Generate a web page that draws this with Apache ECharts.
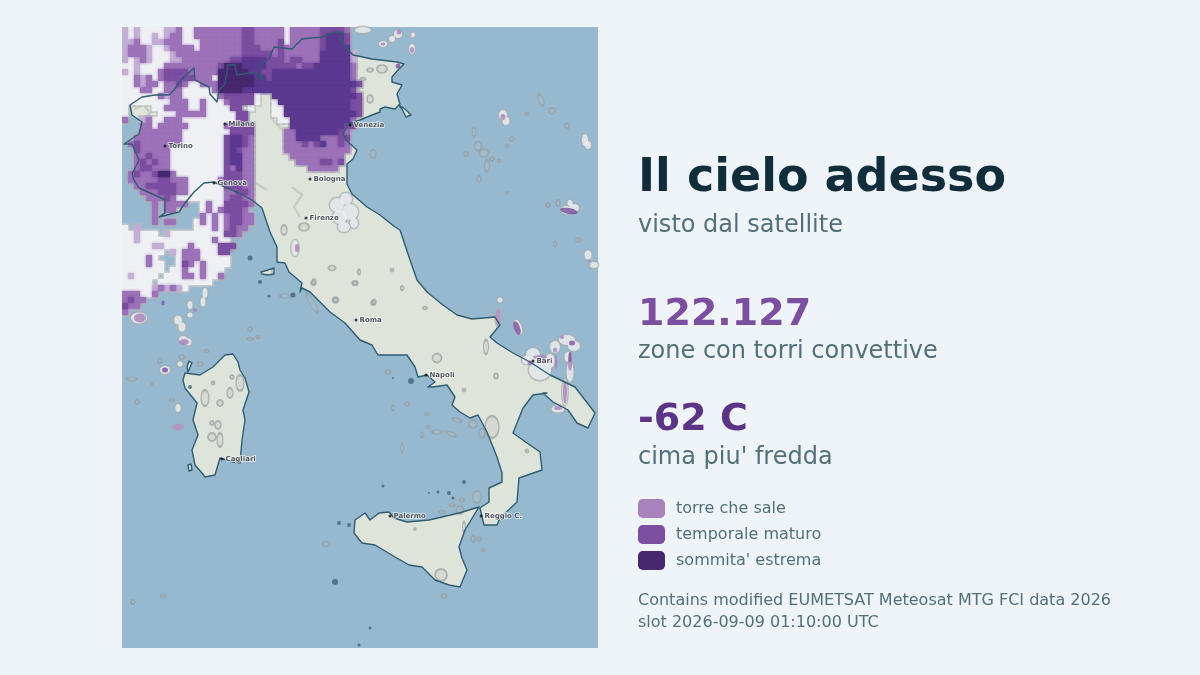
<!DOCTYPE html>
<html lang="it">
<head>
<meta charset="UTF-8">
<title>Il cielo adesso</title>
<script src="https://cdn.jsdelivr.net/npm/echarts@6/dist/echarts.min.js"></script>
<style>
html, body { margin: 0; padding: 0; background: #eff4f8; }
#chart { width: 1200px; height: 675px; }
</style>
</head>
<body>
<div id="chart"></div>
<script>
// mappa: unita' del riquadro, x 0-476, y 0-621 dall'alto
const mapWidth = 476
const mapHeight = 621
const cellSize = 6

const mainland = [
	[8,78],[20,70],[33,68],[47,68],[52,63],[60,52],[72,41],[73,53],[87,60],[88,67],[95,75],[97,63],[103,57],[106,38],[113,38],[115,48],
	[133,45],[140,53],[138,37],[147,32],[152,20],[170,22],[180,12],[200,10],[213,5],[220,5],[218,12],[225,22],[231,28],[250,32],[275,35],
	[282,37],[276,43],[270,50],[270,55],[280,58],[275,67],[278,77],[273,82],[263,80],[258,82],[258,85],[250,88],[238,93],[226,97],[221,107],
	[226,115],[235,123],[231,132],[225,137],[225,157],[230,167],[245,180],[258,188],[273,200],[278,203],[286,227],[295,253],[305,265],[321,278],
	[335,288],[350,292],[373,290],[378,298],[368,310],[375,316],[391,326],[408,335],[428,348],[453,360],[473,386],[466,401],[455,396],[446,383],
	[431,375],[421,366],[425,366],[411,368],[401,381],[395,396],[391,406],[405,416],[418,425],[420,443],[397,451],[395,475],[378,491],[375,498],
	[362,498],[358,481],[367,475],[367,461],[380,455],[380,446],[375,430],[365,405],[356,388],[348,391],[338,385],[330,378],[333,370],[325,358],
	[311,360],[306,360],[313,355],[305,348],[296,350],[293,340],[285,328],[275,328],[256,328],[250,318],[238,313],[223,296],[208,285],[188,265],
	[180,261],[178,265],[180,256],[167,245],[163,236],[155,235],[155,220],[148,205],[140,181],[130,173],[117,166],[103,160],[92,155],[82,156],
	[72,165],[63,176],[57,185],[37,190],[43,186],[43,173],[37,170],[17,161],[12,153],[10,147],[17,133],[10,117],[2,117],[17,107],[20,95],[10,88]
]
const sardinia = [
	[103,328],[111,327],[116,335],[118,343],[123,351],[127,365],[121,383],[123,393],[120,413],[118,436],[111,435],[98,431],[93,448],[83,450],
	[80,446],[73,438],[70,423],[76,408],[71,393],[75,376],[63,361],[61,353],[63,346],[78,348],[91,340]
]
const sicily = [
	[233,493],[243,486],[248,493],[257,486],[267,485],[272,491],[285,495],[307,493],[320,490],[337,486],[357,480],[352,488],[343,503],[337,520],
	[340,531],[345,543],[338,560],[327,558],[313,553],[300,540],[287,538],[273,530],[253,518],[240,516],[232,506]
]
const elba = [[139,245],[146,243],[152,241],[152,247],[146,248],[140,247]]
const grado = [[277,78],[283,82],[289,88],[284,90],[280,82]]
const asinara = [[67,334],[70,336],[66,345],[65,340]]
const sanPietro = [[66,438],[69,437],[70,443],[67,444]]
const landShapes = [mainland, sardinia, sicily, elba, grado, asinara, sanPietro]

// isolette scure [x, y, diametro]
const tinyIslands = [
	[128,231,5],[138,255,4],[147,269,3],[171,268,5],[289,354,6],[271,351,2],[213,555,6],[261,459,3],[342,455,4],[307,466,2],[316,465,3],
	[327,466,4],[331,471,3],[217,496,4],[227,498,4],[248,601,3],[237,618,3],[68,360,4]
]

// nubi a celle da 6 unita': w bianco, a lavanda, l chiaro, m medio, d scuro, x estremo
const cloudRows = [
	"awawwwwaalwwllllllllmmlllllwlllllmmmml",
	"awawwawallwwllllllllmmlllllwlllllmdddm",
	"aalwwaalllwwwlllllllmmllllmwlllllmdddm",
	"alllawwallllwlllllllmmmlllmllllllmdddd",
	"alllawwwalllllllllllmmmmmlmllllllddddda",
	"awalawwwaallllllllmmddddmmmlmmlllddddda",
	"wwawwwwlllllllllmxxxddddmmmmmlmmddddddl",
	"awawwwlmmmmlllllxxxxxddmmdddddddddddddl",
	"wwlalwlmmmmmlllwxxxxxxddmdddddddddddddl",
	"wwlallwllmlwwlllxxxxxxdddddddddddddddddm",
	"wwwllwwlllwwwwwlxxxxddddddddddddddddddm",
	"wwwwwwlallwwwwwwlmmmmmw..ddddddddddddddm",
	"wwwwwwwwlllwwlwwwlmmmmw..wddddddddddddmm",
	"w....wwllllwwlwwwwmm.w...wwdddddddddddmm",
	"w.....wwwlllllwwwwwmm....wwddddddddddddm",
	"l..alwwlllwwwwwwwwwmm.....wwddddddddddl",
	"...llwlllllwwwwwwlmmmm......dddddddddmm",
	"...lllllllwwwwwwwwmmmm.....lldddddddml",
	"..llllllllwwwwwwwmddml.....llddddlllmm",
	".lmlllllllwwwwwwwmddml.....lllmlmdllml",
	"..mlllllwwwwwwwwwmdmll.....lllllllllll",
	"..llmlllwwwwwwwwwmddll......lllllllll",
	"..lmlmllwwwwwwwwwmddll.......llllmmlm",
	"..lmmlllwwwwwwwwwmldll.........lllll",
	".lmllmxxlwwwwwwwwmmmll",
	".lllllmmlllwwwwwlmmmll",
	"..llmmmmmllwwwwwwmmmll",
	"...lllmmmllwwwwwwllmml",
	"....lllmlwwwwwwwwlmmll",
	".....l.llll..wlwwmmmml",
	".....l.ll....wlwlmmml",
	".....l.......lwlwlmmll",
	".....l.ll...wlwlwlmmll",
	"w.a.........wwwlwlmll",
	"wwawww.awwwwwwwwwmml",
	"wwawwwwwwwwwwwwlww",
	"wwwwwaawwwwlwwwwmmm",
	"wwwwwww.awlllwwwmm",
	"wwwwlw...wlllwwwww",
	"wwwwlww..wmlwlwwww",
	"wwwwwww.wwlwwlwww",
	"wawwww.wwwllwlwwl",
	"wwwww.wwwwwwwww",
	"wwwwwalalaw",
	"lllwwl",
	"lmll",
	"mll",
	"l"
]
const cloudClasses = ['w', 'a', 'l', 'm', 'd', 'x']

// nubi piccole e cuciture grigie [x, y, larghezza, altezza, rotazione]
const lowCloudBlobs = [
	[419,73,5,12,20],[430,84,6,6],[445,99,4,5],[356,119,7,9],[362,126,9,8],[352,105,4,9],[365,139,5,12],[357,152,4,6],[344,127,4,4],[390,112,4,4],
	[385,119,3,3],[377,134,3,3],[370,132,4,4],[385,166,2,2],[251,127,6,8],[426,178,4,4],[436,176,4,6],[456,213,4,4],[433,217,3,5],[405,87,3,3],
	[128,302,4,4],[128,312,6,3],[136,310,3,3],[10,352,10,4],[38,334,4,5],[78,337,5,4],[85,324,4,3],[30,357,3,3],[15,375,4,4],[50,373,5,3],
	[190,276,5,22,30],[163,269,10,4],[204,517,7,5],[11,575,4,4],[41,569,5,3],[322,569,5,4],[351,512,4,6],[357,512,4,4],[361,523,3,3],[355,470,9,12],
	[338,483,7,8],[330,478,5,3],[320,485,6,3],[340,473,5,3],[266,345,5,4],[285,377,4,4],[271,381,3,5],[305,387,4,3],[335,393,9,4,-20],[351,397,8,8],
	[315,405,10,4],[329,407,10,4,-25],[300,408,3,5],[306,400,3,3],[280,421,3,9],
	[315,331,9,9],[364,320,5,14],[374,349,4,5],[342,363,3,3],[405,424,3,3],[214,273,5,5],[251,276,4,4],[303,281,4,3],[233,256,5,4],[191,256,4,4],
	[370,400,14,22],[360,406,6,9],[210,241,7,5],[192,255,4,6],[233,256,5,4],[213,273,5,5],[252,275,4,5],[280,261,3,4],[270,243,3,3],[237,245,3,5],
	[162,203,6,10],[182,200,10,8],[83,371,8,16],[108,366,6,10],[118,356,8,16],[98,376,6,6],[90,396,4,4],[96,398,6,8],[90,410,8,8],[98,413,6,14],
	[110,350,4,4],[91,356,3,3],[319,548,12,12],[342,500,3,10],[293,502,2,2],[233,40,5,6],[248,43,6,4],[260,42,10,8],[248,72,6,8],[236,68,5,12],
	[231,50,4,4],[241,52,5,3],[228,33,3,3],[5,262,4,5],[12,288,5,4],[60,330,5,4]
]
const whiteBlobs = [
	[381,88,8,10],[384,94,7,8],[463,113,6,12],[466,118,6,8],[444,183,10,8],[452,181,10,8],[448,176,5,6],[466,228,7,9],[472,238,8,6],[276,7,8,8],[270,12,6,6],
	[261,17,8,6],[290,22,6,10],[241,3,16,6],[291,8,4,5],[56,293,8,9],[60,300,7,9],[61,312,8,6],[66,315,7,7],[68,278,5,8],[83,266,5,10],[81,275,5,9],
	[68,288,5,5],[43,343,10,8],[58,337,5,5],[56,381,5,8],[17,291,16,11],[215,178,14,14],[224,172,12,12],[228,185,16,16],[218,190,14,14],[222,200,12,10],[232,196,8,10],
	[173,221,7,16],[418,343,22,20],[411,328,14,14],[404,333,8,8],[428,334,10,14],[433,320,10,12],[445,313,16,10],[452,319,12,10],[446,330,7,10],[448,345,7,20],
	[443,365,5,26],[436,382,13,7],[378,273,5,5],[396,300,7,15,20],[376,290,5,18],[56,400,10,5],[152,244,3,3]
]
const lightBlobs = [
	[18,291,12,9],[62,315,10,6],[73,283,4,4],[175,221,4,8],[56,400,11,6],[376,290,5,18],[433,323,4,5],[448,336,4,16],[443,365,4,24],[436,381,8,4],
	[418,330,14,4],[408,336,5,5],[434,335,3,14],[277,5,5,5],[261,17,5,3],[290,23,4,6],[381,90,5,6],[467,234,3,3],[440,310,4,4]
]
const midBlobs = [[43,343,6,5],[41,276,3,5],[395,301,6,14,20],[450,316,6,5],[276,39,5,5],[447,184,18,6,-10],[448,330,3,10]]

// contorni grigi sulla terra
const contours = [
	[[132,68],[128,85],[122,105],[128,118],[124,132],[133,140],[132,155],[145,163]],
	[[160,80],[150,92],[165,108],[172,128],[190,130]],
	[[80,125],[88,140],[100,150],[106,158]],
	[[12,82],[22,78],[28,86],[22,94]],
	[[36,165],[48,172],[60,168]],
	[[170,160],[180,168],[172,180],[178,190]],
	[[226,40],[232,62],[226,80],[232,95]]
]

const cities = [
	['Milano',103,97],['Torino',43,119],['Genova',92,156],['Venezia',228,98],['Bologna',188,152],['Firenze',184,191],['Roma',234,293],
	['Napoli',304,348],['Bari',411,334],['Cagliari',100,432],['Palermo',268,489],['Reggio C.',359,489]
]

const legendNames = ['torre che sale', 'temporale maturo', "sommita' estrema"]
const legendColors = ['#a882bb', '#7b4ea0', '#47286f']
const colors = { w: '#eef0f3', a: '#c3aed6', l: '#9c72b8', m: '#7b4ea0', d: '#5c3990', x: '#47286f' }
const fontName = 'DejaVu Sans'

// dalle righe di testo alle celle [x, y] della mappa
function cellsOf(ch) {
	const out = []
	cloudRows.forEach((row, r) => {
		for (let c = 0; c < row.length; c++) {
			if (row[c] === ch) out.push([c * cellSize, r * cellSize])
		}
	})
	return out
}
function allCells() {
	let out = []
	cloudClasses.forEach(ch => { out = out.concat(cellsOf(ch)) })
	return out
}
function cellRender(grow, fill, blur) {
	return function (params, api) {
		const p = api.coord([api.value(0), api.value(1)])
		const s = api.size([cellSize, cellSize])
		return {
			type: 'rect',
			shape: { x: p[0] - grow, y: p[1] - grow, width: s[0] + grow * 2, height: s[1] + grow * 2 },
			style: { fill: fill, shadowBlur: blur, shadowColor: fill }
		}
	}
}
function cellSeries(name, ch, z) {
	return {
		type: 'custom', name: name, z: z, clip: true, silent: true,
		itemStyle: { color: colors[ch] },
		renderItem: cellRender(0, colors[ch], 3),
		data: cellsOf(ch)
	}
}
function polygonSeries(shapes, style, z, closed) {
	return {
		type: 'custom', z: z, clip: true, silent: true,
		renderItem: function (params, api) {
			const pts = shapes[api.value(0)].map(p => api.coord(p))
			return { type: closed ? 'polygon' : 'polyline', shape: { points: pts }, style: style }
		},
		data: shapes.map((s, i) => [i])
	}
}
function blobSeries(data, style, z, grow) {
	const g = grow || 0
	return {
		type: 'scatter', z: z, silent: true, symbol: 'circle',
		symbolSize: v => [v[2] + g, v[3] + g],
		symbolRotate: v => v[4] || 0,
		itemStyle: style,
		data: data
	}
}
function titleText(text, top, size, weight, color) {
	return { text: text, left: 638, top: top, padding: 0, textStyle: { fontFamily: fontName, fontSize: size, fontWeight: weight, color: color } }
}

const subText = '#51707c'
const chart = echarts.init(document.getElementById('chart'))
chart.setOption({
	animation: false,
	backgroundColor: '#eff4f8',
	textStyle: { fontFamily: fontName },
	grid: { left: 122, top: 27, width: mapWidth, height: mapHeight, show: true, backgroundColor: '#96b9cf', borderWidth: 0 },
	xAxis: { type: 'value', min: 0, max: mapWidth, show: false },
	yAxis: { type: 'value', min: 0, max: mapHeight, inverse: true, show: false },
	title: [
		titleText('Il cielo adesso', 156, 46, 'bold', '#0f2d3a'),
		titleText('visto dal satellite', 214, 24, 'normal', subText),
		titleText('122.127', 296, 38, 'bold', '#7b4ea0'),
		titleText('zone con torri convettive', 340, 24, 'normal', subText),
		titleText('-62 C', 401, 38, 'bold', '#5c3487'),
		titleText("cima piu' fredda", 446, 24, 'normal', subText),
		titleText('Contains modified EUMETSAT Meteosat MTG FCI data 2026', 593, 16, 'normal', subText),
		titleText('slot 2026-09-09 01:10:00 UTC', 615, 16, 'normal', subText)
	],
	legend: {
		left: 638, top: 499, orient: 'vertical', padding: 0, itemWidth: 27, itemHeight: 19, itemGap: 7,
		selectedMode: false, icon: 'roundRect',
		textStyle: { fontFamily: fontName, fontSize: 16, color: subText, padding: [0, 0, 0, 6] },
		data: legendNames.map((n, i) => ({ name: n, itemStyle: { color: legendColors[i] } }))
	},
	series: [
		polygonSeries(landShapes, { fill: '#dfe4da' }, 2, true),
		blobSeries(lowCloudBlobs, { color: 'rgba(185,192,192,0.35)', borderColor: 'rgba(150,158,160,0.85)', borderWidth: 1.8 }, 3),
		polygonSeries(contours, { fill: 'none', stroke: '#c9ccc6', lineWidth: 2.4, lineJoin: 'round' }, 3, false),
		{ type: 'custom', z: 4, clip: true, silent: true, renderItem: cellRender(2, 'rgba(180,186,186,0.7)', 0), data: allCells() },
		blobSeries(whiteBlobs, { color: 'rgba(166,174,176,0.9)' }, 4, 3),
		blobSeries(whiteBlobs, { color: '#eef0f3' }, 5),
		cellSeries('nubi', 'w', 5),
		cellSeries('velo', 'a', 5),
		cellSeries(legendNames[0], 'l', 6),
		cellSeries(legendNames[1], 'm', 7),
		cellSeries('scuro', 'd', 8),
		cellSeries(legendNames[2], 'x', 9),
		blobSeries(lightBlobs, { color: '#a882bb' }, 6),
		blobSeries(midBlobs, { color: '#7b4ea0' }, 7),
		polygonSeries(landShapes, { fill: 'none', stroke: '#2f5d72', lineWidth: 1.4, lineJoin: 'round' }, 10, true),
		blobSeries(tinyIslands.map(d => [d[0], d[1], d[2], d[2]]), { color: '#3f6478' }, 10),
		{
			type: 'scatter', z: 11, silent: true, symbol: 'circle', symbolSize: 3,
			itemStyle: { color: '#111' },
			label: {
				show: true, position: 'right', distance: 2, formatter: p => p.value[2],
				fontFamily: fontName, fontSize: 7, fontWeight: 'bold', color: '#1c2730', textBorderColor: '#fff', textBorderWidth: 1.5
			},
			data: cities.map(c => [c[1], c[2], c[0]])
		}
	]
})
</script>
</body>
</html>
